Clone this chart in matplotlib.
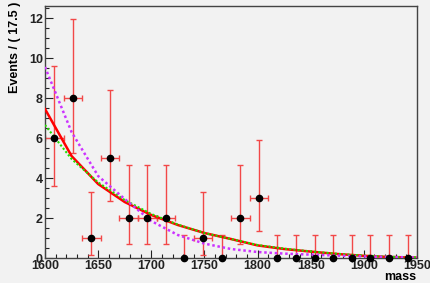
import numpy as np
import matplotlib
matplotlib.use('Agg')
import matplotlib.pyplot as plt
from matplotlib.ticker import MultipleLocator

# Binned data: 20 bins of 17.5 between 1600 and 1950
bin_lo = 1600.0
bin_width = 17.5
counts = [6, 8, 1, 5, 2, 2, 2, 0, 1, 0, 2, 3, 0, 0, 0, 0, 0, 0, 0, 0]
err_low = [2.38, 2.76, 0.83, 2.16, 1.29, 1.29, 1.29, 0.0, 0.83, 0.0,
           1.29, 1.63, 0.0, 0.0, 0.0, 0.0, 0.0, 0.0, 0.0, 0.0]
err_high = [3.58, 3.95, 2.30, 3.38, 2.64, 2.64, 2.64, 1.15, 2.30, 1.15,
            2.64, 2.92, 1.15, 1.15, 1.15, 1.15, 1.15, 1.15, 1.15, 1.15]

# Fitted curves
curve_mass = [1600, 1625, 1650, 1675, 1700, 1725, 1750, 1775, 1800,
              1825, 1850, 1875, 1900, 1925, 1950]
red_curve = [7.45, 5.1, 3.7, 2.8, 2.15, 1.65, 1.25, 0.95, 0.63,
             0.45, 0.32, 0.2, 0.11, 0.05, 0.02]
green_curve = [6.65, 4.95, 3.78, 2.9, 2.2, 1.67, 1.25, 0.95, 0.65,
               0.47, 0.33, 0.21, 0.12, 0.06, 0.03]
magenta_curve = [9.55, 6.3, 4.1, 2.95, 1.85, 1.15, 0.72, 0.45, 0.3,
                 0.22, 0.17, 0.12, 0.08, 0.05, 0.03]

bg = '#f2f2f2'
plt.rcParams['font.family'] = ['Liberation Sans', 'DejaVu Sans']
plt.rcParams['font.weight'] = 'bold'

fig = plt.figure(figsize=(4.31, 2.83), dpi=100, facecolor=bg)
ax = fig.add_axes([0.1044, 0.0883, 0.8631, 0.8905])
ax.set_facecolor(bg)

counts = np.array(counts, dtype=float)
centers = bin_lo + bin_width * (np.arange(len(counts)) + 0.5)
xerr = np.where(counts > 0, bin_width / 2, 0.0)

# Data points with asymmetric poisson errors
ax.errorbar(centers, counts, yerr=[err_low, err_high], xerr=xerr,
            fmt='none', ecolor='#f24848', elinewidth=1.0, capsize=2.5,
            capthick=1.0, zorder=2)
ax.plot(centers, counts, 'o', color='black', markersize=4.5, zorder=5,
        clip_on=False)

# Curves
ax.plot(curve_mass, green_curve, color='#22dd00', lw=1.5,
        linestyle=(0, (1, 1)), zorder=4)
ax.plot(curve_mass, red_curve, color='#ff0000', lw=1.8, zorder=3)
ax.plot(curve_mass, magenta_curve, color='#cc33ff', lw=1.8,
        linestyle=(0, (1, 1.1)), zorder=4)

ax.set_xlim(1600, 1950)
ax.set_ylim(0, 12.6)

ax.xaxis.set_major_locator(MultipleLocator(50))
ax.xaxis.set_minor_locator(MultipleLocator(10))
ax.yaxis.set_major_locator(MultipleLocator(2))
ax.yaxis.set_minor_locator(MultipleLocator(0.5))
ax.tick_params(which='both', direction='in', top=False, right=False,
               labelsize=9, colors='#222222', width=0.8)
ax.tick_params(which='major', length=6)
ax.tick_params(which='minor', length=3)
ax.tick_params(axis='x', pad=1.5)
ax.tick_params(axis='y', pad=1.5)
for lab in ax.get_xticklabels() + ax.get_yticklabels():
    lab.set_fontweight('bold')

for sp in ax.spines.values():
    sp.set_color('#444444')
    sp.set_linewidth(1.0)

fig.text(0.035, 0.995, 'Events / ( 17.5 )', rotation=90, ha='center',
         va='top', fontsize=9, fontweight='bold')
fig.text(0.966, 0.0, 'mass', ha='right', va='bottom', fontsize=9,
         fontweight='bold')

fig.savefig('out.png', dpi=100, facecolor=bg)
